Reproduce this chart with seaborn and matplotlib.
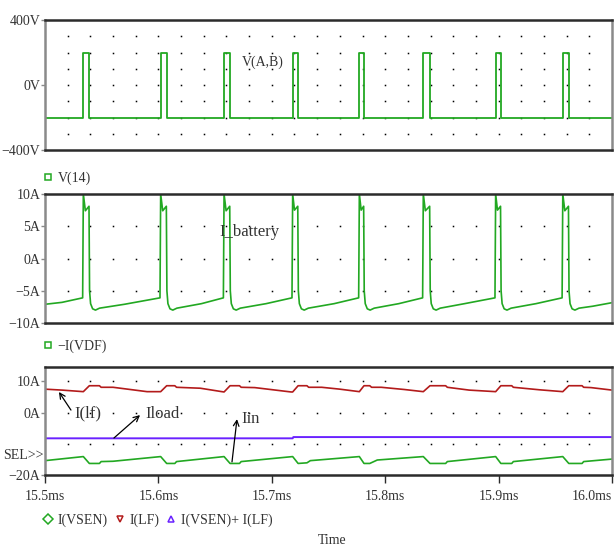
import numpy as np
import seaborn as sns
import matplotlib.pyplot as plt
from matplotlib.lines import Line2D

# ---- values (time in ms) ----
# V(14): square wave, steps-post edges
t_vab = [15.5000, 15.5338, 15.5391, 15.6020, 15.6073, 15.6579, 15.6632, 15.7184, 15.7230,
         15.7772, 15.7813, 15.8336, 15.8395, 15.8974, 15.9021, 15.9567, 15.9618, 16.0000]
v_ab = [-200, 200, -200, 200, -200, 200, -200, 200, -200,
        200, -200, 200, -200, 200, -200, 200, -200, -200]

# -I(VDF): battery current
t_ib = [15.5000, 15.5150, 15.5332,
        15.5338, 15.5356, 15.5388, 15.5393, 15.5402, 15.5420, 15.5445, 15.5481, 15.5700, 15.6014,
        15.6020, 15.6038, 15.6070, 15.6075, 15.6084, 15.6102, 15.6127, 15.6163, 15.6380, 15.6573,
        15.6579, 15.6597, 15.6629, 15.6634, 15.6643, 15.6661, 15.6686, 15.6722, 15.6950, 15.7178,
        15.7184, 15.7200, 15.7229, 15.7234, 15.7243, 15.7261, 15.7286, 15.7322, 15.7550, 15.7766,
        15.7772, 15.7788, 15.7810, 15.7815, 15.7824, 15.7842, 15.7867, 15.7903, 15.8120, 15.8330,
        15.8336, 15.8354, 15.8392, 15.8397, 15.8406, 15.8424, 15.8449, 15.8485, 15.8700, 15.8968,
        15.8974, 15.8990, 15.9017, 15.9022, 15.9031, 15.9049, 15.9074, 15.9110, 15.9330, 15.9560,
        15.9566, 15.9584, 15.9616, 15.9621, 15.9630, 15.9648, 15.9673, 15.9709, 15.9830, 16.0000]
i_batt = [-7.1, -6.8, -6.1,
          10.0, 7.4, 8.1, -5.0, -7.0, -7.8, -8.0, -7.7, -7.1, -6.1,
          10.0, 7.4, 8.1, -5.0, -7.0, -7.8, -8.0, -7.7, -7.0, -6.1,
          10.0, 7.4, 8.1, -5.0, -7.0, -7.8, -8.0, -7.7, -7.0, -6.1,
          10.0, 7.5, 8.1, -5.0, -7.0, -7.8, -8.0, -7.7, -7.0, -6.1,
          10.0, 7.5, 8.1, -5.0, -7.0, -7.8, -8.0, -7.7, -7.0, -6.1,
          10.0, 7.4, 8.1, -5.0, -7.0, -7.8, -8.0, -7.7, -7.0, -6.1,
          10.0, 7.5, 8.1, -5.0, -7.0, -7.8, -8.0, -7.7, -7.0, -6.1,
          10.0, 7.4, 8.1, -5.0, -7.0, -7.8, -8.0, -7.7, -7.4, -6.85]

# I(LF)
t_lf = [15.5000, 15.5150, 15.5338,
        15.5391, 15.5480, 15.5495, 15.5600, 15.5900, 15.6020,
        15.6073, 15.6145, 15.6160, 15.6370, 15.6560, 15.6579,
        15.6632, 15.6715, 15.6730, 15.6850, 15.7170, 15.7184,
        15.7232, 15.7310, 15.7325, 15.7440, 15.7600, 15.7772,
        15.7813, 15.7864, 15.7880, 15.7965, 15.8166, 15.8336,
        15.8395, 15.8533, 15.8548, 15.8740, 15.8974,
        15.9020, 15.9116, 15.9130, 15.9360, 15.9566,
        15.9619, 15.9736, 15.9750, 15.9815, 16.0000]
i_lf = [7.5, 7.2, 6.7,
        8.6, 8.6, 8.1, 8.1, 6.7, 6.7,
        8.6, 8.6, 8.1, 7.8, 6.7, 6.6,
        8.6, 8.6, 8.1, 8.0, 6.6, 6.6,
        8.6, 8.6, 8.1, 8.1, 7.5, 6.7,
        8.6, 8.6, 8.1, 8.1, 7.4, 6.7,
        8.6, 8.6, 8.1, 7.2, 6.7,
        8.6, 8.6, 8.1, 7.3, 6.7,
        8.6, 8.6, 8.1, 8.0, 7.2]

# I(VSEN)
t_vsen = [15.5000, 15.5338,
          15.5391, 15.5480, 15.5495, 15.5600, 15.6020,
          15.6073, 15.6145, 15.6160, 15.6579,
          15.6632, 15.6715, 15.6730, 15.7184,
          15.7232, 15.7310, 15.7340, 15.7772,
          15.7813, 15.7864, 15.7930, 15.8336,
          15.8395, 15.8533, 15.8548, 15.8974,
          15.9020, 15.9116, 15.9130, 15.9566,
          15.9619, 15.9736, 15.9750, 16.0000]
i_vsen = [-15.4, -14.1,
          -16.3, -16.3, -15.7, -15.6, -14.1,
          -16.3, -16.3, -15.7, -14.1,
          -16.3, -16.3, -15.7, -14.1,
          -16.3, -16.1, -15.4, -14.1,
          -16.3, -16.3, -15.2, -14.1,
          -16.3, -16.3, -15.7, -14.1,
          -16.3, -16.3, -15.7, -14.1,
          -16.3, -16.3, -15.7, -14.9]

# I(VSEN)+I(LF)
t_sum = [15.5000, 15.7184, 15.7190, 16.0000]
i_sum = [-8.25, -8.25, -7.85, -7.85]

x_ticks = [15.5, 15.6, 15.7, 15.8, 15.9, 16.0]

sns.set_theme(style='white')
plt.rcParams['font.family'] = ['Liberation Serif', 'DejaVu Serif']
plt.rcParams['font.size'] = 10

TXT = '#333333'
GREEN = '#22a822'
RED = '#b31b1b'
PURPLE = '#6a22ff'

fig = plt.figure(figsize=(6.16, 5.5), dpi=100)
ax1 = fig.add_axes([45/616, 1-150/550, 567/616, 130/550])
ax2 = fig.add_axes([45/616, 1-323/550, 567/616, 129/550])
ax3 = fig.add_axes([45/616, 1-475/550, 567/616, 108/550])

sns.lineplot(x=t_vab, y=v_ab, ax=ax1, color=GREEN, lw=1.3, estimator=None, sort=False,
             drawstyle='steps-post')
sns.lineplot(x=t_ib, y=i_batt, ax=ax2, color=GREEN, lw=1.2, estimator=None, sort=False)
sns.lineplot(x=t_lf, y=i_lf, ax=ax3, color=RED, lw=1.2, estimator=None, sort=False)
sns.lineplot(x=t_vsen, y=i_vsen, ax=ax3, color=GREEN, lw=1.2, estimator=None, sort=False)
sns.lineplot(x=t_sum, y=i_sum, ax=ax3, color=PURPLE, lw=1.4, estimator=None, sort=False)


def frame(ax, ylim, yticks, ylabels, dot_rows):
    ax.set_xlim(15.5, 16.0)
    ax.set_ylim(*ylim)
    ax.set_yticks(yticks)
    ax.set_yticklabels(ylabels)
    ax.set_xlabel('')
    ax.set_ylabel('')
    for s in ['top', 'bottom']:
        ax.spines[s].set_color('#2b2b2b')
        ax.spines[s].set_linewidth(1.8)
    for s in ['left', 'right']:
        ax.spines[s].set_color('#8a8a8a')
        ax.spines[s].set_linewidth(1.8)
    ax.tick_params(axis='y', left=True, direction='out', length=3, width=1,
                   color='#8a8a8a', pad=0.5, labelcolor=TXT, labelsize=10)
    # PSpice style dot grid
    gx = np.arange(15.52, 15.99, 0.02)
    X, Y = np.meshgrid(gx, dot_rows)
    ax.plot(X.ravel(), Y.ravel(), ls='none', marker='s', ms=1.1, mew=0,
            color='black', zorder=1)


frame(ax1, (-400, 400), [400, 0, -400], ['400V', '0V', '\u2212400V'],
      [-300, -200, -100, 0, 100, 200, 300])
frame(ax2, (-10, 10), [10, 5, 0, -5, -10], ['10A', '5A', '0A', '\u22125A', '\u221210A'],
      [-5, 0, 5])
frame(ax3, (-20, 14.6), [10, 0, -20], ['10A', '0A', '\u221220A'], [-10, 0, 10])

for ax in (ax1, ax2):
    ax.set_xticks([])
ax3.set_xticks(x_ticks)
ax3.set_xticklabels([f'{t:.1f}ms' for t in x_ticks])
ax3.tick_params(axis='x', bottom=True, direction='out', length=6, width=1,
                color='#2b2b2b', pad=5, labelcolor=TXT, labelsize=10)
# last label squeezed inside the window, as PSpice does
ax3.get_xticklabels()[-1].set_horizontalalignment('right')

# trace labels
ax1.text(15.6737, 141, 'V(A,B)', color=TXT, fontsize=10, va='center')
ax2.text(15.6534, 4.1, 'I_battery', color=TXT, fontsize=12, va='center')
ax3.text(-0.003, 0.185, 'SEL>>', transform=ax3.transAxes, ha='right', va='center',
         color=TXT, fontsize=10)

arrow = dict(arrowstyle='->', color='black', lw=0.9, shrinkA=0, shrinkB=0)
ax3.annotate('', xy=(15.5123, 6.6), xytext=(15.5229, 0.8), arrowprops=arrow)
ax3.text(15.5256, -0.4, 'I(lf)', color=TXT, fontsize=12, va='center')
ax3.annotate('', xy=(15.5838, -0.8), xytext=(15.5608, -8.15), arrowprops=arrow)
ax3.text(15.5882, -0.5, 'Iload', color=TXT, fontsize=12, va='center')
ax3.annotate('', xy=(15.6693, -2.1), xytext=(15.6649, -15.8), arrowprops=arrow)
ax3.text(15.6728, -2.1, 'Iin', color=TXT, fontsize=12, va='center')

# legends under each panel
def mk(marker, color):
    return Line2D([], [], ls='none', marker=marker, ms=5, mfc='none', mec=color, mew=1.1)

leg_kw = dict(loc='center left', frameon=False, handlelength=0.6, handletextpad=0.4,
              borderpad=0, borderaxespad=0, fontsize=10, labelcolor=TXT)
ax1.legend(handles=[mk('s', GREEN)], labels=['V(14)'], bbox_to_anchor=(-0.002, -0.215), **leg_kw)
ax2.legend(handles=[mk('s', GREEN)], labels=['\u2212I(VDF)'], bbox_to_anchor=(-0.002, -0.178), **leg_kw)
ax3.legend(handles=[mk('D', GREEN), mk('v', RED), mk('^', PURPLE)],
           labels=['I(VSEN)', 'I(LF)', 'I(VSEN)+ I(LF)'], ncol=3, columnspacing=0.55,
           bbox_to_anchor=(-0.002, -0.417), **leg_kw)

fig.text(332/616, 1-541/550, 'Time', ha='center', va='center', color=TXT, fontsize=10)

fig.savefig('out.png', dpi=100, facecolor='white')
